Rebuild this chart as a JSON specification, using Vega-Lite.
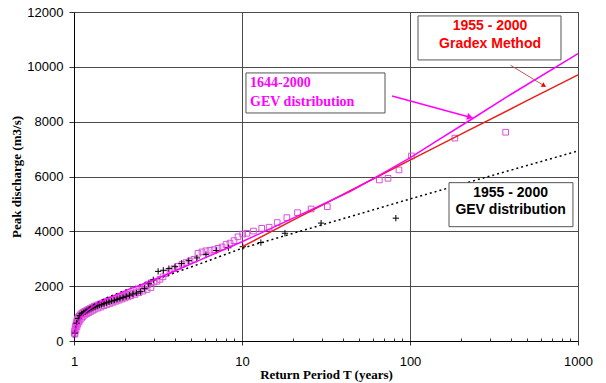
{
  "$schema": "https://vega.github.io/schema/vega-lite/v6.json",
  "width": 504,
  "height": 329,
  "autosize": {"type": "none"},
  "padding": {"left": 74, "top": 12, "right": 28, "bottom": 42},
  "background": "white",
  "config": {
    "view": {"stroke": "#555", "strokeWidth": 1},
    "axis": {
      "labelFont": "Liberation Sans", "labelFontSize": 13, "labelColor": "#000",
      "titleFont": "Liberation Serif", "titleFontSize": 13, "titleFontWeight": "bold", "titleColor": "#000",
      "domainColor": "#000", "tickColor": "#333", "gridColor": "#4a4a4a", "gridOpacity": 1
    }
  },
  "datasets": {
    "sq": [
      {"T":1.0041,"Q":280},{"T":1.0083,"Q":360},{"T":1.0138,"Q":450},{"T":1.0208,"Q":540},{"T":1.0278,"Q":620},{"T":1.0349,"Q":690},{"T":1.042,"Q":750},{"T":1.0492,"Q":800},{"T":1.0563,"Q":840},{"T":1.0636,"Q":870},{"T":1.0709,"Q":900},{"T":1.0857,"Q":940},{"T":1.1007,"Q":980},{"T":1.1158,"Q":1010},{"T":1.1312,"Q":1040},{"T":1.1468,"Q":1060},{"T":1.1627,"Q":1080},{"T":1.1788,"Q":1100},{"T":1.195,"Q":1120},{"T":1.2115,"Q":1140},{"T":1.2283,"Q":1160},{"T":1.2452,"Q":1180},{"T":1.2797,"Q":1220},{"T":1.3154,"Q":1260},{"T":1.352,"Q":1290},{"T":1.3895,"Q":1320},{"T":1.4282,"Q":1350},{"T":1.4678,"Q":1380},{"T":1.5085,"Q":1410},{"T":1.5505,"Q":1440},{"T":1.5936,"Q":1465},{"T":1.6379,"Q":1490},{"T":1.6834,"Q":1510},{"T":1.7302,"Q":1535},{"T":1.7783,"Q":1560},{"T":1.8277,"Q":1585},{"T":1.8786,"Q":1610},{"T":1.9307,"Q":1630},{"T":1.9845,"Q":1655},{"T":2.0397,"Q":1680},{"T":2.0963,"Q":1700},{"T":2.1544,"Q":1720},{"T":2.2449,"Q":1750},{"T":2.3392,"Q":1790},{"T":2.4373,"Q":1830},{"T":2.5394,"Q":1900},{"T":2.6459,"Q":1980},{"T":2.7569,"Q":2060},{"T":2.8723,"Q":2120},{"T":2.9935,"Q":2150},{"T":3.119,"Q":2180},{"T":3.25,"Q":2250},{"T":3.3863,"Q":2340},{"T":3.5283,"Q":2460},{"T":3.7276,"Q":2560},{"T":3.9381,"Q":2640},{"T":4.1601,"Q":2720},{"T":4.3945,"Q":2800},{"T":4.6416,"Q":2860},{"T":4.903,"Q":2920},{"T":5.1795,"Q":2980},{"T":5.4706,"Q":3200},{"T":5.7796,"Q":3250},{"T":6.1054,"Q":3290},{"T":6.4495,"Q":3310},{"T":6.8129,"Q":3330},{"T":7.1969,"Q":3380},{"T":7.6027,"Q":3430},{"T":8.0309,"Q":3520},{"T":8.4834,"Q":3570},{"T":8.9615,"Q":3660},{"T":9.4665,"Q":3800},
      {"T":1.0138,"Q":250},{"T":1.0278,"Q":400},{"T":1.042,"Q":520},{"T":1.0563,"Q":620},{"T":1.0709,"Q":700},{"T":1.0857,"Q":760},{"T":1.1082,"Q":830},{"T":1.1312,"Q":890},{"T":1.1627,"Q":950},{"T":1.195,"Q":1000},{"T":1.2283,"Q":1040},{"T":1.2623,"Q":1080},{"T":1.2975,"Q":1120},{"T":1.3335,"Q":1160},{"T":1.3895,"Q":1200},{"T":1.4479,"Q":1240},{"T":1.5085,"Q":1290},{"T":1.5719,"Q":1330},{"T":1.6379,"Q":1370},{"T":1.7067,"Q":1410},{"T":1.7783,"Q":1450},{"T":1.853,"Q":1490},{"T":1.9307,"Q":1530},{"T":2.0119,"Q":1570},{"T":2.0963,"Q":1610},{"T":2.1842,"Q":1650},{"T":2.3075,"Q":1700},{"T":2.4373,"Q":1760},{"T":2.5744,"Q":1820},{"T":2.7193,"Q":1880},{"T":2.8723,"Q":1950},
      {"T":10.1,"Q":3900},{"T":10.7,"Q":3930},{"T":11.7,"Q":4010},{"T":13.1,"Q":4110},{"T":14.5,"Q":4150},{"T":16.2,"Q":4320},{"T":18.5,"Q":4500},{"T":21.4,"Q":4680},{"T":25.8,"Q":4815},{"T":32.2,"Q":4900},{"T":65.7,"Q":5875},{"T":74,"Q":5935},{"T":86,"Q":6240},{"T":102,"Q":6750},{"T":185,"Q":7400},{"T":371,"Q":7615}
    ],
    "plus": [
      {"T":82.36,"Q":4480},{"T":29.56,"Q":4300},{"T":18.02,"Q":3930},{"T":12.955,"Q":3590},{"T":10.114,"Q":3440},{"T":8.295,"Q":3400},{"T":7.03,"Q":3300},{"T":6.101,"Q":3150},{"T":5.388,"Q":3030},{"T":4.824,"Q":2930},{"T":4.367,"Q":2830},{"T":3.99,"Q":2710},{"T":3.672,"Q":2640},{"T":3.401,"Q":2580},{"T":3.168,"Q":2540},{"T":2.964,"Q":2230},{"T":2.785,"Q":2090},{"T":2.626,"Q":1920},{"T":2.485,"Q":1800},{"T":2.358,"Q":1750},{"T":2.243,"Q":1715},{"T":2.139,"Q":1670},{"T":2.044,"Q":1630},{"T":1.958,"Q":1590},{"T":1.878,"Q":1557},{"T":1.804,"Q":1520},{"T":1.736,"Q":1485},{"T":1.673,"Q":1455},{"T":1.615,"Q":1425},{"T":1.56,"Q":1395},{"T":1.509,"Q":1365},{"T":1.461,"Q":1335},{"T":1.416,"Q":1305},{"T":1.374,"Q":1280},{"T":1.3345,"Q":1250},{"T":1.297,"Q":1220},{"T":1.2615,"Q":1190},{"T":1.228,"Q":1150},{"T":1.196,"Q":1110},{"T":1.1658,"Q":1070},{"T":1.1371,"Q":1030},{"T":1.1097,"Q":990},{"T":1.0836,"Q":930},{"T":1.0588,"Q":820},{"T":1.035,"Q":650},{"T":1.0123,"Q":290}
    ],
    "gev1644": [
      {"T":1.005,"Q":150},{"T":1.01,"Q":250},{"T":1.03,"Q":500},{"T":1.06,"Q":700},{"T":1.12,"Q":930},{"T":1.21,"Q":1130},{"T":1.35,"Q":1330},{"T":1.55,"Q":1520},{"T":1.83,"Q":1720},{"T":2.15,"Q":1900},{"T":2.83,"Q":2163},{"T":4,"Q":2560},{"T":5.6,"Q":2950},{"T":10,"Q":3620},{"T":20,"Q":4472},{"T":30,"Q":4973},{"T":43.9,"Q":5446},{"T":70,"Q":6140},{"T":100,"Q":6680},{"T":150,"Q":7360},{"T":230,"Q":8070},{"T":400,"Q":9000},{"T":1000,"Q":10480}
    ],
    "gradex": [
      {"T":10,"Q":3430},{"T":20,"Q":4400},{"T":50,"Q":5655},{"T":100,"Q":6596},{"T":200,"Q":7537},{"T":500,"Q":8774},{"T":1000,"Q":9704}
    ],
    "gev1955": [
      {"T":1.005,"Q":120},{"T":1.012,"Q":290},{"T":1.03,"Q":560},{"T":1.06,"Q":800},{"T":1.12,"Q":1020},{"T":1.2,"Q":1170},{"T":1.35,"Q":1370},{"T":1.6,"Q":1600},{"T":2,"Q":1840},{"T":2.5,"Q":2060},{"T":3.2,"Q":2280},{"T":4.47,"Q":2600},{"T":6,"Q":2880},{"T":10,"Q":3381},{"T":20,"Q":3922},{"T":43.9,"Q":4535},{"T":100,"Q":5180},{"T":227,"Q":5805},{"T":1000,"Q":6931}
    ],
    "boxes": [
      {"T1":10.56,"T2":71.0,"Q1":8317,"Q2":9777},
      {"T1":111.6,"T2":792,"Q1":10251,"Q2":11856},
      {"T1":170.7,"T2":933,"Q1":4170,"Q2":5775}
    ]
  },
  "resolve": {"axis": {"x": "independent", "y": "independent"}},
  "layer": [
    {
      "data": {"name": "sq"},
      "mark": {"type": "point", "shape": "square", "filled": false, "stroke": "#d94fd9", "strokeWidth": 1, "size": 32, "opacity": 1},
      "encoding": {
        "x": {"field": "T", "type": "quantitative",
          "scale": {"type": "log", "domain": [1, 1000], "nice": false},
          "axis": {"orient": "bottom", "values": [1, 10, 100, 1000], "format": "d", "grid": true, "tickSize": 4, "labelPadding": 10, "labelFlush": false, "title": "Return Period T (years)", "titlePadding": 0}},
        "y": {"field": "Q", "type": "quantitative",
          "scale": {"domain": [0, 12000], "nice": false},
          "axis": {"orient": "left", "values": [0, 2000, 4000, 6000, 8000, 10000, 12000], "format": "d", "grid": true, "tickSize": 5, "labelPadding": 6, "title": "Peak discharge (m3/s)", "titlePadding": 3}}
      }
    },
    {
      "data": {"name": "plus"},
      "mark": {"type": "point", "shape": "M-1,0L1,0M0,-1L0,1", "filled": false, "stroke": "#000", "strokeWidth": 1, "size": 40, "opacity": 1},
      "encoding": {
        "x": {"field": "T", "type": "quantitative",
          "axis": {"orient": "bottom", "values": [2,3,4,5,6,7,8,9,20,30,40,50,60,70,80,90,200,300,400,500,600,700,800,900], "labels": false, "grid": false, "domain": false, "tickSize": -3, "title": null}},
        "y": {"field": "Q", "type": "quantitative", "axis": null}
      }
    },
    {
      "data": {"name": "gev1955"},
      "mark": {"type": "line", "color": "#000", "strokeWidth": 1.5, "strokeDash": [2, 3]},
      "encoding": {
        "x": {"field": "T", "type": "quantitative", "axis": null},
        "y": {"field": "Q", "type": "quantitative", "axis": null}
      }
    },
    {
      "data": {"name": "gradex"},
      "mark": {"type": "line", "color": "#e8201a", "strokeWidth": 1.5},
      "encoding": {
        "x": {"field": "T", "type": "quantitative", "axis": null},
        "y": {"field": "Q", "type": "quantitative", "axis": null}
      }
    },
    {
      "data": {"name": "gev1644"},
      "mark": {"type": "line", "color": "#ff00ff", "strokeWidth": 1.5},
      "encoding": {
        "x": {"field": "T", "type": "quantitative", "axis": null},
        "y": {"field": "Q", "type": "quantitative", "axis": null}
      }
    },
    {
      "data": {"name": "boxes"},
      "mark": {"type": "rect", "fill": "white", "stroke": "#555", "strokeWidth": 1},
      "encoding": {
        "x": {"field": "T1", "type": "quantitative", "axis": null},
        "x2": {"field": "T2"},
        "y": {"field": "Q1", "type": "quantitative", "axis": null},
        "y2": {"field": "Q2"}
      }
    },
    {
      "data": {"values": [{"T": 11.16, "Q": 9421, "label": "1644-2000"}, {"T": 11.16, "Q": 8728, "label": "GEV distribution"}]},
      "mark": {"type": "text", "align": "left", "baseline": "middle", "font": "Liberation Serif", "fontWeight": "bold", "fontSize": 14, "color": "#ff00ff"},
      "encoding": {
        "x": {"field": "T", "type": "quantitative", "axis": null},
        "y": {"field": "Q", "type": "quantitative", "axis": null},
        "text": {"field": "label"}
      }
    },
    {
      "data": {"values": [{"T": 299.5, "Q": 11490, "label": "1955 - 2000"}, {"T": 299.5, "Q": 10834, "label": "Gradex Method"}]},
      "mark": {"type": "text", "align": "center", "baseline": "middle", "font": "Liberation Sans", "fontWeight": "bold", "fontSize": 14, "color": "#ff0000"},
      "encoding": {
        "x": {"field": "T", "type": "quantitative", "axis": null},
        "y": {"field": "Q", "type": "quantitative", "axis": null},
        "text": {"field": "label"}
      }
    },
    {
      "data": {"values": [{"T": 397, "Q": 5409, "label": "1955 - 2000"}, {"T": 397, "Q": 4778, "label": "GEV distribution"}]},
      "mark": {"type": "text", "align": "center", "baseline": "middle", "font": "Liberation Sans", "fontWeight": "bold", "fontSize": 14, "color": "#000"},
      "encoding": {
        "x": {"field": "T", "type": "quantitative", "axis": null},
        "y": {"field": "Q", "type": "quantitative", "axis": null},
        "text": {"field": "label"}
      }
    },
    {
      "data": {"values": [{"T1": 78.2, "Q1": 8937, "T2": 227.9, "Q2": 8163}]},
      "mark": {"type": "rule", "color": "#ff00ff", "strokeWidth": 1.5},
      "encoding": {
        "x": {"field": "T1", "type": "quantitative", "axis": null},
        "y": {"field": "Q1", "type": "quantitative", "axis": null},
        "x2": {"field": "T2"},
        "y2": {"field": "Q2"}
      }
    },
    {
      "data": {"values": [{"T": 227.9, "Q": 8163}]},
      "mark": {"type": "point", "shape": "triangle-up", "filled": true, "color": "#ff00ff", "size": 50, "angle": 105, "opacity": 1},
      "encoding": {
        "x": {"field": "T", "type": "quantitative", "axis": null},
        "y": {"field": "Q", "type": "quantitative", "axis": null}
      }
    },
    {
      "data": {"values": [{"T1": 397, "Q1": 10057, "T2": 628, "Q2": 9312}]},
      "mark": {"type": "rule", "color": "#b55a5a", "strokeWidth": 1},
      "encoding": {
        "x": {"field": "T1", "type": "quantitative", "axis": null},
        "y": {"field": "Q1", "type": "quantitative", "axis": null},
        "x2": {"field": "T2"},
        "y2": {"field": "Q2"}
      }
    },
    {
      "data": {"values": [{"T": 628, "Q": 9312}]},
      "mark": {"type": "point", "shape": "triangle-up", "filled": true, "color": "#ff0000", "size": 28, "angle": 121, "opacity": 1},
      "encoding": {
        "x": {"field": "T", "type": "quantitative", "axis": null},
        "y": {"field": "Q", "type": "quantitative", "axis": null}
      }
    }
  ]
}
